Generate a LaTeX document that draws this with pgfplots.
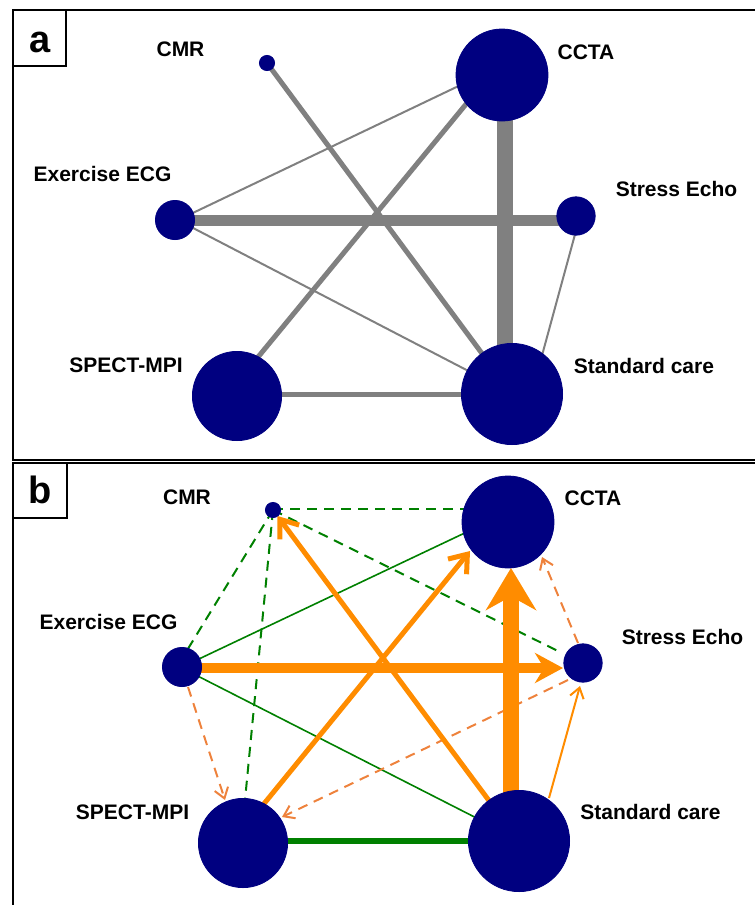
\documentclass[border=0pt]{standalone}
\usepackage{pgfplots}
\pgfplotsset{compat=1.18}
\usepackage{fontspec}
\setmainfont{Liberation Sans}
\usetikzlibrary{arrows.meta}
\definecolor{navyc}{RGB}{0,0,128}
\definecolor{edgegray}{RGB}{128,128,128}
\definecolor{dorange}{RGB}{255,140,0}
\definecolor{lorange}{RGB}{238,130,60}
\definecolor{dgreen}{RGB}{0,128,0}
\newcommand\lab[3]{\node[font=\fontsize{10.5}{12}\selectfont\bfseries, inner sep=0pt, anchor=center] at (axis cs:#1,#2) {#3};}
\newcommand\nd[3]{\addplot[only marks, mark=*, mark size=#3pt, draw=navyc, fill=navyc] coordinates {(#1,#2)};}
\begin{document}
\begin{tikzpicture}
\begin{axis}[scale only axis, width=377.5pt, height=452.5pt,
  xmin=0, xmax=755, ymin=0, ymax=905, y dir=reverse, hide axis,
  gdash/.style={dgreen, line width=1pt, dash pattern=on 5pt off 3.5pt},
  odash/.style={lorange, line width=1pt, dash pattern=on 5pt off 3.5pt},
  thinbarb/.style={-{Straight Barb[length=5pt,width=7pt]}},
  medbarb/.style={-{Straight Barb[length=8pt,width=12pt]}},
]
% invisible extent
\addplot[draw=none] coordinates {(0,0) (755,905)};
% ---------- frames ----------
\addplot[black, line width=0.75pt] coordinates {(755,10) (13,10) (13,460) (755,460)};
\addplot[black, line width=0.75pt] coordinates {(13,66) (66,66) (66,10)};
\addplot[black, line width=0.75pt] coordinates {(755,463) (13,463) (13,905)};
\addplot[black, line width=0.75pt] coordinates {(13,518) (67,518) (67,463)};
% ---------- panel a edges ----------
\addplot[edgegray, line width=1pt] coordinates {(175,221.5) (490,71)};
\addplot[edgegray, line width=1pt] coordinates {(175,218.6) (505,390)};
\addplot[edgegray, line width=1pt] coordinates {(580,216) (531.5,394)};
\addplot[edgegray, line width=2.5pt] coordinates {(267,63) (512,394)};
\addplot[edgegray, line width=2.5pt] coordinates {(226,396) (490,75)};
\addplot[edgegray, line width=2.5pt] coordinates {(237,394) (512,394)};
\addplot[edgegray, line width=5.5pt] coordinates {(175,220.5) (576,220.5)};
\addplot[edgegray, line width=8pt] coordinates {(505,75) (505,394)};
% ---------- panel a nodes ----------
\nd{267}{63}{3.8}
\nd{502}{75}{23}
\nd{175}{220}{9.8}
\nd{576}{216}{9.6}
\nd{237}{396}{22.3}
\nd{512}{394}{25.3}
% ---------- panel b edges ----------
\addplot[gdash] coordinates {(273,509) (508,509)};
\addplot[gdash] coordinates {(273,510) (186,652)};
\addplot[gdash] coordinates {(273,510) (245,800)};
\addplot[gdash] coordinates {(273,510) (560,652)};
\addplot[dgreen, line width=0.8pt] coordinates {(182,667) (490,521)};
\addplot[dgreen, line width=0.8pt] coordinates {(182,668) (500,830)};
\addplot[dgreen, line width=3pt] coordinates {(243,841) (519,841)};
\addplot[odash, thinbarb] coordinates {(188,687) (225,800)};
\addplot[odash, thinbarb] coordinates {(568,680) (282,817)};
\addplot[odash, thinbarb] coordinates {(578,643) (542,557)};
\addplot[dorange, line width=1pt, thinbarb] coordinates {(549,798) (580,686)};
\addplot[dorange, line width=2.5pt, medbarb] coordinates {(519,841) (277.5,516)};
\addplot[dorange, line width=2.5pt, medbarb] coordinates {(232,843) (470,551)};
\addplot[dorange, line width=5pt, -{Stealth[length=14pt,width=15pt]}] coordinates {(182,668) (563,668)};
\addplot[dorange, line width=8pt, -{Stealth[length=21pt,width=25pt]}] coordinates {(511,841) (511,568)};
% ---------- panel b nodes ----------
\nd{273}{510}{3.8}
\nd{508}{522}{23}
\nd{182}{667}{9.8}
\nd{583}{663}{9.6}
\nd{243}{843}{22.3}
\nd{519}{841}{25.3}
% ---------- labels ----------
\node[font=\fontsize{19}{22}\selectfont\bfseries, inner sep=0pt] at (axis cs:40,42) {a};
\node[font=\fontsize{19}{22}\selectfont\bfseries, inner sep=0pt] at (axis cs:40.5,490) {b};
\lab{180.5}{49}{CMR}
\lab{586}{52}{CCTA}
\lab{102.5}{174}{Exercise ECG}
\lab{676.5}{189}{Stress Echo}
\lab{126}{365}{SPECT-MPI}
\lab{644}{366}{Standard care}
\lab{187}{497}{CMR}
\lab{593}{498}{CCTA}
\lab{108.5}{622}{Exercise ECG}
\lab{682.5}{637}{Stress Echo}
\lab{132.5}{812}{SPECT-MPI}
\lab{650.5}{812}{Standard care}
\end{axis}
\end{tikzpicture}
\end{document}
